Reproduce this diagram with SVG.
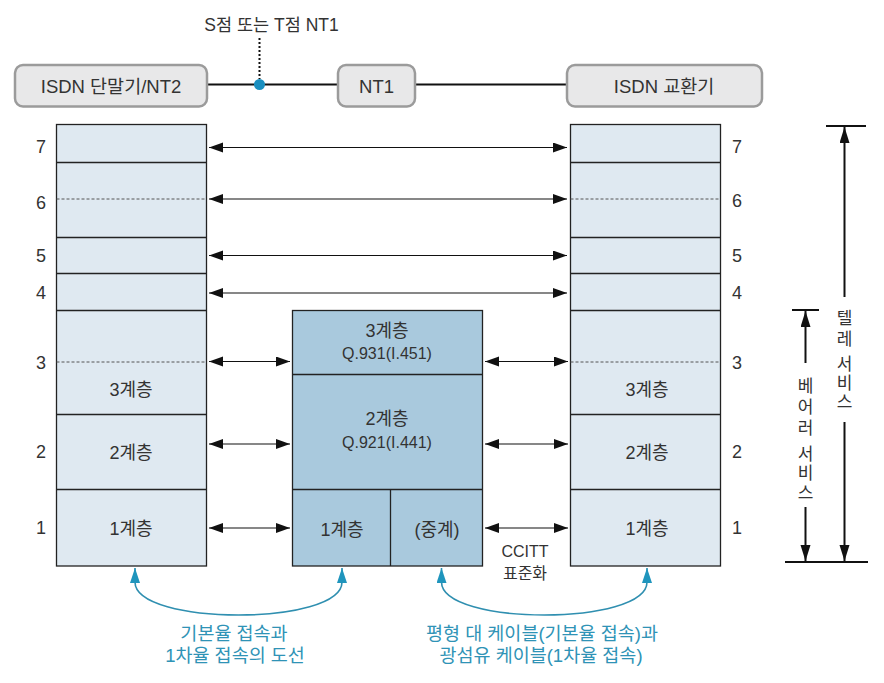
<svg xmlns="http://www.w3.org/2000/svg" width="884" height="683" viewBox="0 0 884 683">
<style>
text{font-family:"Liberation Sans","Noto Sans CJK KR",sans-serif;fill:#333;dominant-baseline:central;text-anchor:middle}
.t17{font-size:17px}.t18{font-size:18px}.t185{font-size:18.5px}.t16{font-size:16px}.num{font-size:18px}
.teal{fill:#2f93b6;font-size:18.5px}
.top{fill:#e8e8e9;stroke:#9b9b9b;stroke-width:2.5}
.stk{fill:#dfe9f1;stroke:#222;stroke-width:1.3}
.mid{fill:#a9c9dd;stroke:#222;stroke-width:1.3}
.div{stroke:#222;stroke-width:1.3;fill:none}
.dash{stroke:#555;stroke-width:1;stroke-dasharray:3,2;fill:none}
.arr{stroke:#111;stroke-width:1.2;fill:none;marker-start:url(#ah);marker-end:url(#ah)}
.brk{stroke:#111;stroke-width:2;fill:none}
.tcurve{stroke:#2f8fb0;stroke-width:1.6;fill:none;marker-start:url(#th);marker-end:url(#th)}
</style>
<defs>
<marker id="ah" markerUnits="userSpaceOnUse" markerWidth="15" markerHeight="11" refX="14" refY="5" orient="auto-start-reverse"><path d="M0,0 L14,5 L0,10 z" fill="#111"/></marker>
<marker id="bh" markerUnits="userSpaceOnUse" markerWidth="17" markerHeight="11" refX="16" refY="5" orient="auto"><path d="M0,0 L16,5 L0,10 z" fill="#111"/></marker>
<marker id="th" markerUnits="userSpaceOnUse" markerWidth="16" markerHeight="11" refX="15" refY="5" orient="auto-start-reverse"><path d="M0,0 L15,5 L0,10 z" fill="#1f95bd"/></marker>
</defs>

<g id="connectors">
<line x1="207" y1="84.5" x2="338" y2="84.5" stroke="#111" stroke-width="2"/>
<line x1="415" y1="84.5" x2="567" y2="84.5" stroke="#111" stroke-width="2"/>
<line x1="259.5" y1="38" x2="259.5" y2="79" stroke="#111" stroke-width="2" stroke-dasharray="2,2"/>
<line class="arr" x1="209" y1="147.5" x2="567" y2="147.5"/>
<line class="arr" x1="209" y1="199" x2="567" y2="199"/>
<line class="arr" x1="209" y1="255.5" x2="567" y2="255.5"/>
<line class="arr" x1="209" y1="293" x2="567" y2="293"/>
<line class="arr" x1="209" y1="361.5" x2="290" y2="361.5"/>
<line class="arr" x1="209" y1="444" x2="290" y2="444"/>
<line class="arr" x1="209" y1="528" x2="290" y2="528"/>
<line class="arr" x1="485" y1="361.5" x2="568" y2="361.5"/>
<line class="arr" x1="485" y1="444" x2="568" y2="444"/>
<line class="arr" x1="485" y1="528" x2="568" y2="528"/>
<path class="tcurve" d="M135,568 L135,582 C135,626 342,626 342,582 L342,568"/>
<path class="tcurve" d="M441.5,568 L441.5,582 C441.5,626 647,626 647,582 L647,568"/>
</g>

<g id="sttext"><text x="271.5" y="25" style="font-size:17.5px">S점 또는 T점 NT1</text></g>
<g id="stdot"><circle cx="259.5" cy="84.5" r="5.5" fill="#1a8fc0"/></g>

<g id="node-terminal">
<rect class="top" x="15" y="65" width="192" height="41.5" rx="8"/>
<text class="t185" x="111" y="86">ISDN 단말기/NT2</text>
</g>
<g id="node-nt1">
<rect class="top" x="338" y="65" width="77" height="41.5" rx="8"/>
<text class="t185" x="376.5" y="86">NT1</text>
</g>
<g id="node-exchange">
<rect class="top" x="567" y="65" width="195" height="41.5" rx="8"/>
<text class="t185" x="664" y="86">ISDN 교환기</text>
</g>

<g id="stack-left">
<rect class="stk" x="56.5" y="124.5" width="150" height="441.5"/>
<line class="div" x1="56.5" y1="162.5" x2="206.5" y2="162.5"/>
<line class="dash" x1="56.5" y1="199" x2="206.5" y2="199"/>
<line class="div" x1="56.5" y1="237.5" x2="206.5" y2="237.5"/>
<line class="div" x1="56.5" y1="273.5" x2="206.5" y2="273.5"/>
<line class="div" x1="56.5" y1="310.5" x2="206.5" y2="310.5"/>
<line class="dash" x1="56.5" y1="362" x2="206.5" y2="362"/>
<line class="div" x1="56.5" y1="414.5" x2="206.5" y2="414.5"/>
<line class="div" x1="56.5" y1="489.5" x2="206.5" y2="489.5"/>
<text class="t18" x="131" y="390">3계층</text>
<text class="t18" x="131" y="453">2계층</text>
<text class="t18" x="131" y="529">1계층</text>
<text class="num" x="41" y="147">7</text>
<text class="num" x="41" y="203">6</text>
<text class="num" x="41" y="255.5">5</text>
<text class="num" x="41" y="293">4</text>
<text class="num" x="41" y="363">3</text>
<text class="num" x="41" y="452">2</text>
<text class="num" x="41" y="527.5">1</text>
</g>

<g id="stack-middle">
<rect class="mid" x="292.5" y="310.5" width="190" height="255.5"/>
<line class="div" x1="292.5" y1="374.5" x2="482.5" y2="374.5"/>
<line class="div" x1="292.5" y1="489.5" x2="482.5" y2="489.5"/>
<line class="div" x1="390.5" y1="489.5" x2="390.5" y2="566"/>
<text class="t18" x="387" y="330.5">3계층</text>
<text class="t16" x="387" y="353">Q.931(I.451)</text>
<text class="t18" x="387" y="419">2계층</text>
<text class="t16" x="387" y="442">Q.921(I.441)</text>
<text class="t18" x="342" y="530">1계층</text>
<text class="t18" x="437" y="530">(중계)</text>
</g>

<g id="stack-right">
<rect class="stk" x="570.5" y="124.5" width="150" height="441.5"/>
<line class="div" x1="570.5" y1="162.5" x2="720.5" y2="162.5"/>
<line class="dash" x1="570.5" y1="199" x2="720.5" y2="199"/>
<line class="div" x1="570.5" y1="237.5" x2="720.5" y2="237.5"/>
<line class="div" x1="570.5" y1="273.5" x2="720.5" y2="273.5"/>
<line class="div" x1="570.5" y1="310.5" x2="720.5" y2="310.5"/>
<line class="dash" x1="570.5" y1="362" x2="720.5" y2="362"/>
<line class="div" x1="570.5" y1="414.5" x2="720.5" y2="414.5"/>
<line class="div" x1="570.5" y1="489.5" x2="720.5" y2="489.5"/>
<text class="t18" x="647" y="390">3계층</text>
<text class="t18" x="647" y="453">2계층</text>
<text class="t18" x="647" y="529">1계층</text>
<text class="num" x="737" y="147">7</text>
<text class="num" x="737" y="201">6</text>
<text class="num" x="737" y="255.5">5</text>
<text class="num" x="737" y="293">4</text>
<text class="num" x="737" y="363">3</text>
<text class="num" x="737" y="452">2</text>
<text class="num" x="737" y="527.5">1</text>
</g>

<g id="ccitt">
<text class="t16" x="525" y="551">CCITT</text>
<text class="t16" x="525" y="573">표준화</text>
</g>

<g id="tele-service">
<line class="brk" x1="826" y1="126" x2="866" y2="126"/>
<line class="brk" x1="785" y1="562" x2="868" y2="562"/>
<line class="brk" x1="844.5" y1="297" x2="844.5" y2="127" marker-end="url(#bh)"/>
<line class="brk" x1="844.5" y1="422" x2="844.5" y2="561" marker-end="url(#bh)"/>
<text class="t17" x="844.5" y="318">텔</text>
<text class="t17" x="844.5" y="339">레</text>
<text class="t17" x="844.5" y="364">서</text>
<text class="t17" x="844.5" y="383">비</text>
<text class="t17" x="844.5" y="402">스</text>
</g>

<g id="bearer-service">
<line class="brk" x1="792" y1="310" x2="819" y2="310"/>
<line class="brk" x1="805.5" y1="363" x2="805.5" y2="311" marker-end="url(#bh)"/>
<line class="brk" x1="805.5" y1="507" x2="805.5" y2="561" marker-end="url(#bh)"/>
<text class="t17" x="805.5" y="386">베</text>
<text class="t17" x="805.5" y="407">어</text>
<text class="t17" x="805.5" y="428">러</text>
<text class="t17" x="805.5" y="454">서</text>
<text class="t17" x="805.5" y="473">비</text>
<text class="t17" x="805.5" y="493">스</text>
</g>

<g id="label-left">
<text class="teal" x="234" y="633">기본율 접속과</text>
<text class="teal" x="235" y="655">1차율 접속의 도선</text>
</g>
<g id="label-right">
<text class="teal" x="542" y="633">평형 대 케이블(기본율 접속)과</text>
<text class="teal" x="541" y="655">광섬유 케이블(1차율 접속)</text>
</g>
</svg>
